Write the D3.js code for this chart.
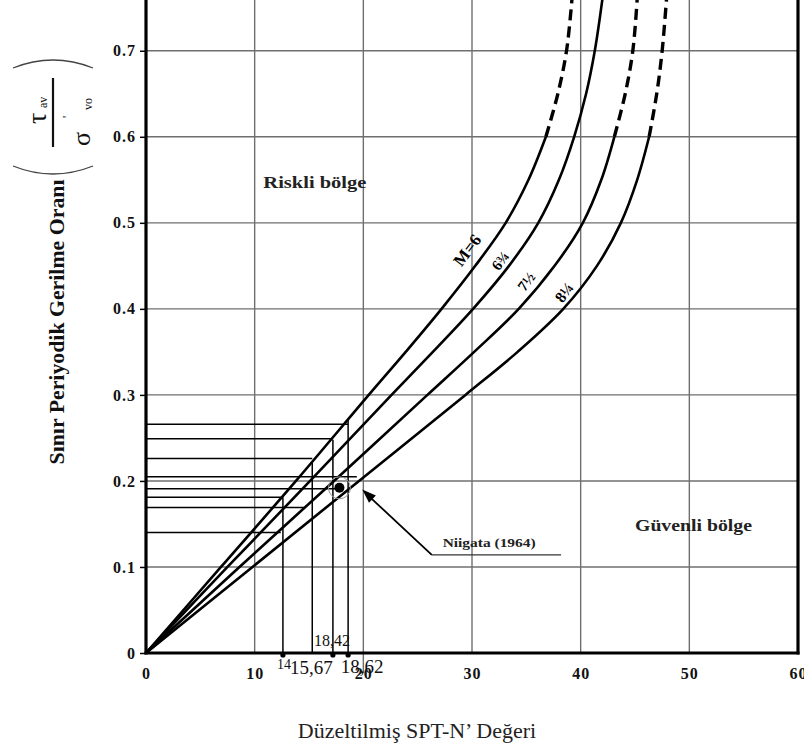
<!DOCTYPE html>
<html><head><meta charset="utf-8">
<script src="https://cdn.jsdelivr.net/npm/d3@7"></script>
<style>body{margin:0;background:#fff}svg{display:block}</style>
</head><body>
<script>
// ---------- data ----------
const xTicks = [0, 10, 20, 30, 40, 50, 60];
const xTickLabels = ["0", "10", "20", "30", "40", "50", "60"];
const yTicks = [0, 0.1, 0.2, 0.3, 0.4, 0.5, 0.6, 0.7];
const yTickLabels = ["0", "0.1", "0.2", "0.3", "0.4", "0.5", "0.6", "0.7"];

const curveNames = ["M=6", "6¾", "7½", "8¼"];
const curveR     = [0, 0.10, 0.20, 0.30, 0.35, 0.40, 0.45, 0.50, 0.55, 0.60, 0.65, 0.70, 0.76];
const curveM6N   = [0, 6.9, 13.8, 20.5, 23.9, 27.2, 30.3, 33.1, 35.2, 36.8, 37.9, 38.7, 39.2];
const curveM675N = [0, 7.5, 15.1, 22.6, 26.4, 30.1, 33.4, 36.1, 38.0, 39.4, 40.5, 41.3, 42.0];
const curveM75N  = [0, 8.6, 17.3, 25.9, 30.2, 34.3, 37.6, 40.2, 41.9, 43.1, 44.1, 44.8, 45.2];
const curveM825N = [0, 9.8, 19.6, 29.4, 34.2, 38.4, 41.5, 43.7, 45.2, 46.3, 47.0, 47.5, 47.9];
const dashFromR = [0.60, null, 0.60, 0.60];

const labelN = [30.2, 33.2, 35.6, 39.1];
const labelR = [0.462, 0.450, 0.426, 0.413];

const markerN = [12.6, 15.3, 17.2, 18.6];
const markerTopR = [0.181, 0.221, 0.248, 0.273];
const markerLabels = ["14", "15,67", "18,42", "18,62"];
const markerDots = [12.6, 17.2, 18.6];

const hLineR    = [0.266, 0.249, 0.226, 0.205, 0.191, 0.181, 0.169, 0.140];
const hLineEndN = [18.6, 17.2, 15.3, 19.4, 17.4, 12.6, 14.6, 12.4];

const niigataN = 17.8, niigataR = 0.192;
const niigataLabel = "Niigata (1964)";

// ---------- layout ----------
const W = 804, H = 751;
const svg = d3.select("body").append("svg").attr("width", W).attr("height", H);
const x = d3.scaleLinear().domain([0, 60]).range([146, 798]);
const y = d3.scaleLinear().domain([0, 0.759]).range([653, 0]);
const serif = "'Liberation Serif','Times New Roman',serif";

// grid
const grid = svg.append("g").attr("stroke", "#6f6f6f").attr("stroke-width", 1.4);
grid.selectAll(".gv").data(xTicks.filter(d => d > 0 && d < 60)).join("line")
  .attr("x1", d => x(d)).attr("x2", d => x(d)).attr("y1", y(0.759))
  .attr("y2", d => d === 20 ? y(0) + 20 : y(0));
grid.selectAll(".gh").data(yTicks.filter(d => d > 0)).join("line")
  .attr("x1", x(0)).attr("x2", x(60)).attr("y1", d => y(d)).attr("y2", d => y(d));

// axes
const yAxis = d3.axisLeft(y).tickValues(yTicks).tickFormat((d, i) => yTickLabels[i]).tickSize(6).tickPadding(4);
const gy = svg.append("g").attr("transform", `translate(${x(0)},0)`).call(yAxis);
gy.select(".domain").remove();
gy.selectAll("line").attr("stroke", "#000").attr("stroke-width", 1.5);
gy.selectAll("text").attr("font-family", serif).attr("font-weight", "bold").attr("font-size", 16)
  .attr("letter-spacing", 1).attr("fill", "#111");

const xAxis = d3.axisBottom(x).tickValues(xTicks).tickFormat((d, i) => xTickLabels[i]).tickSize(0).tickPadding(15);
const gx = svg.append("g").attr("transform", `translate(0,${y(0)})`).call(xAxis);
gx.select(".domain").remove();
gx.selectAll("text").attr("font-family", serif).attr("font-weight", "bold").attr("font-size", 16)
  .attr("letter-spacing", 1).attr("fill", "#111");

svg.append("line").attr("x1", x(0)).attr("x2", x(0)).attr("y1", y(0.759)).attr("y2", y(0) + 1.5)
  .attr("stroke", "#000").attr("stroke-width", 3.2);
svg.append("line").attr("x1", x(60)).attr("x2", x(60)).attr("y1", y(0.759)).attr("y2", y(0) + 1.5)
  .attr("stroke", "#000").attr("stroke-width", 3.2);
svg.append("line").attr("x1", x(0) - 1.5).attr("x2", x(60) + 1.5).attr("y1", y(0)).attr("y2", y(0))
  .attr("stroke", "#000").attr("stroke-width", 3.2);

// reference lines
const ref = svg.append("g").attr("stroke", "#000").attr("stroke-width", 1.5);
ref.selectAll(".h").data(hLineR).join("line")
  .attr("x1", x(0)).attr("x2", (d, i) => x(hLineEndN[i])).attr("y1", d => y(d)).attr("y2", d => y(d));
ref.selectAll(".v").data(markerN).join("line")
  .attr("x1", d => x(d)).attr("x2", d => x(d)).attr("y1", y(0)).attr("y2", (d, i) => y(markerTopR[i]));
svg.selectAll(".mdot").data(markerDots).join("circle")
  .attr("cx", d => x(d)).attr("cy", y(0) + 2).attr("r", 2.6).attr("fill", "#000");

// curves
const curves = [curveM6N, curveM675N, curveM75N, curveM825N];
const line = d3.line().x(d => x(d[0])).y(d => y(d[1])).curve(d3.curveCatmullRom.alpha(0.5));
curves.forEach((ns, i) => {
  const pts = ns.map((n, k) => [n, curveR[k]]);
  const t = dashFromR[i];
  if (t == null) {
    svg.append("path").attr("d", line(pts)).attr("fill", "none").attr("stroke", "#000").attr("stroke-width", 2.6);
  } else {
    const solid = pts.filter(p => p[1] <= t);
    const dashed = pts.filter(p => p[1] >= t);
    svg.append("path").attr("d", line(solid)).attr("fill", "none").attr("stroke", "#000").attr("stroke-width", 2.6);
    svg.append("path").attr("d", line(dashed)).attr("fill", "none").attr("stroke", "#000").attr("stroke-width", 3.4)
      .attr("stroke-dasharray", "11,6");
  }
});

// curve labels
const labSize = [17, 15, 15, 16];
svg.selectAll(".clab").data(curveNames).join("text")
  .attr("transform", (d, i) => `translate(${x(labelN[i])},${y(labelR[i])}) rotate(-53)`)
  .attr("text-anchor", "middle").attr("dy", -3)
  .attr("font-family", serif).attr("font-weight", "bold").attr("font-size", (d, i) => labSize[i])
  .text(d => d);

// Niigata
svg.append("circle").attr("cx", x(niigataN)).attr("cy", y(niigataR)).attr("r", 11)
  .attr("fill", "none").attr("stroke", "#999").attr("stroke-width", 1);
svg.append("circle").attr("cx", x(niigataN)).attr("cy", y(niigataR)).attr("r", 5).attr("fill", "#000");
const ax0 = x(26.3), ay0 = y(0.114), ax1 = x(19.9), ay1 = y(0.19);
svg.append("line").attr("x1", ax0).attr("y1", ay0).attr("x2", x(38.2)).attr("y2", ay0)
  .attr("stroke", "#333").attr("stroke-width", 1.2);
svg.append("line").attr("x1", ax0).attr("y1", ay0).attr("x2", ax1 + 6).attr("y2", ay1 + 6)
  .attr("stroke", "#000").attr("stroke-width", 1.8);
{
  const ang = Math.atan2(ay1 - ay0, ax1 - ax0);
  const L = 14, Wd = 5;
  const bx = ax1 - L * Math.cos(ang), by = ay1 - L * Math.sin(ang);
  const px = -Math.sin(ang) * Wd, py = Math.cos(ang) * Wd;
  svg.append("path").attr("d", `M${ax1},${ay1}L${bx + px},${by + py}L${bx - px},${by - py}Z`).attr("fill", "#000");
}
svg.append("text").attr("x", x(27.3)).attr("y", y(0.123)).attr("font-family", serif)
  .attr("font-weight", "bold").attr("font-size", 13).attr("textLength", 93).attr("lengthAdjust", "spacingAndGlyphs")
  .attr("fill", "#222").text(niigataLabel);

// region labels
svg.append("text").attr("x", x(10.8)).attr("y", y(0.54)).attr("font-family", serif).attr("font-weight", "bold")
  .attr("font-size", 17).attr("textLength", 103).attr("lengthAdjust", "spacingAndGlyphs")
  .attr("fill", "#222").text("Riskli bölge");
svg.append("text").attr("x", x(45.0)).attr("y", y(0.142)).attr("font-family", serif).attr("font-weight", "bold")
  .attr("font-size", 17).attr("textLength", 117).attr("lengthAdjust", "spacingAndGlyphs")
  .attr("fill", "#222").text("Güvenli bölge");

// marker labels
const mlab = [
  {t: markerLabels[0], x: x(markerN[0]) + 1, y: y(0) + 16, s: 14},
  {t: markerLabels[1], x: x(markerN[1]) - 1, y: y(0) + 21, s: 19},
  {t: markerLabels[2], x: x(markerN[2]) - 1, y: y(0) - 7, s: 16},
  {t: markerLabels[3], x: x(markerN[3]) + 14, y: y(0) + 20, s: 19}
];
svg.selectAll(".mlab").data(mlab).join("text")
  .attr("x", d => d.x).attr("y", d => d.y).attr("text-anchor", "middle")
  .attr("font-family", serif).attr("font-size", d => d.s).attr("fill", "#111").text(d => d.t);

// y-axis title (rotated)
const yt = svg.append("g").attr("transform", "rotate(-90)");
yt.append("text").attr("x", -322).attr("y", 64).attr("text-anchor", "middle")
  .attr("font-family", serif).attr("font-weight", "bold").attr("font-size", 22)
  .attr("textLength", 285).attr("lengthAdjust", "spacingAndGlyphs").attr("fill", "#111")
  .text("Sınır Periyodik Gerilme Oranı");
// fraction tau_av / sigma'_vo
yt.append("text").attr("x", -124).attr("y", 46).attr("font-family", serif).attr("font-size", 28).attr("fill", "#111").text("τ");
yt.append("text").attr("x", -108).attr("y", 47).attr("font-family", serif).attr("font-size", 12).attr("fill", "#111").text("av");
yt.append("line").attr("x1", -147).attr("x2", -78).attr("y1", 53).attr("y2", 53).attr("stroke", "#111").attr("stroke-width", 2.2);
yt.append("text").attr("x", -146).attr("y", 90).attr("font-family", serif).attr("font-size", 26).attr("fill", "#111").text("σ");
yt.append("text").attr("x", -118).attr("y", 71).attr("font-family", serif).attr("font-size", 12).attr("fill", "#111").text("'");
yt.append("text").attr("x", -110).attr("y", 92).attr("font-family", serif).attr("font-size", 12).attr("fill", "#111").text("vo");
// big parentheses
yt.append("path").attr("d", "M-166,13 Q-182,53 -166,93").attr("fill", "none").attr("stroke", "#444").attr("stroke-width", 1.3);
yt.append("path").attr("d", "M-68,13 Q-52,53 -68,93").attr("fill", "none").attr("stroke", "#444").attr("stroke-width", 1.3);

// x-axis title
svg.append("text").attr("x", 417).attr("y", 738).attr("text-anchor", "middle")
  .attr("font-family", serif).attr("font-size", 22).attr("fill", "#222").text("Düzeltilmiş SPT-N’ Değeri");
</script>
</body></html>
